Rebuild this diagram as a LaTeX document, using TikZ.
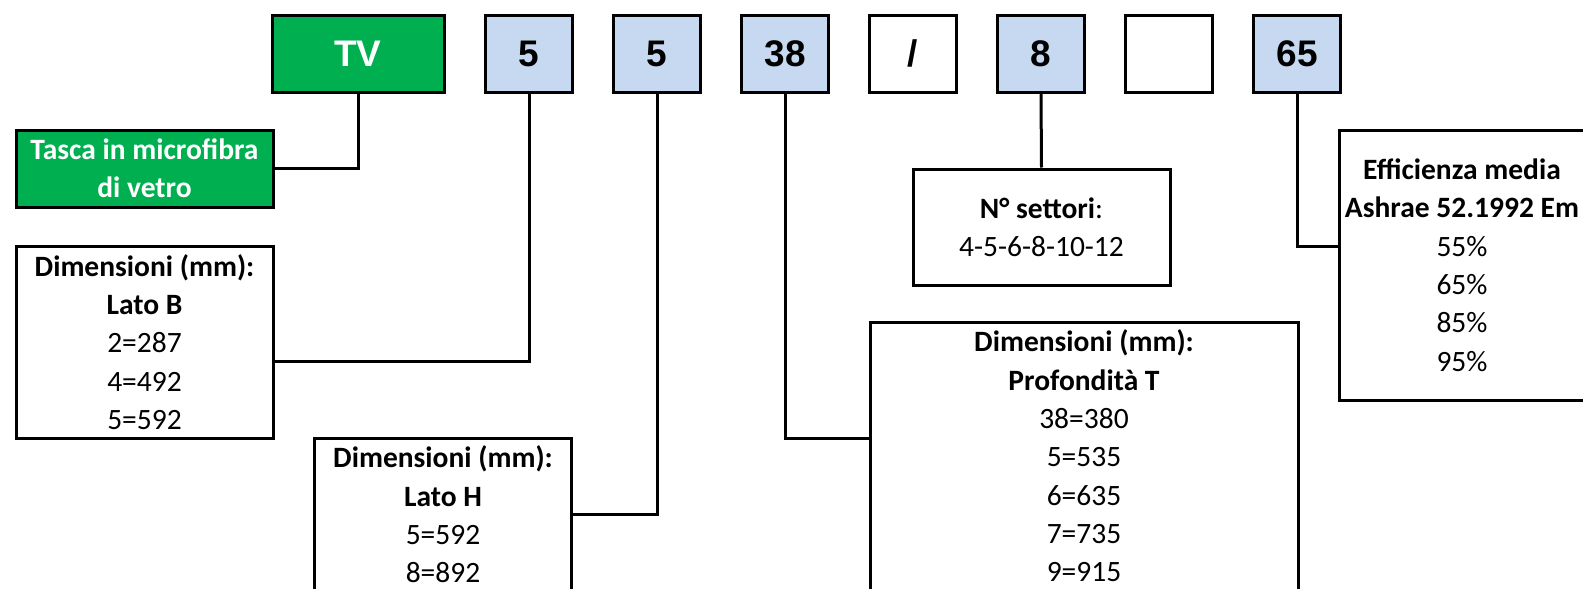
\documentclass[tikz,border=0pt]{standalone}
\usepackage{fontspec}
\setmainfont{Carlito}
\newfontfamily\codefont{Liberation Sans}
\usepackage{xcolor}
\usepackage{tikz}
\definecolor{codegreen}{HTML}{00B050}
\definecolor{codeblue}{HTML}{C6D9F1}

\begin{document}
\begin{tikzpicture}[x=1pt, y=-1pt,
    code/.style={rectangle, draw, line width=3pt, minimum width=87pt, minimum height=77pt, inner sep=0pt,
                 fill=codeblue, font=\codefont\fontsize{37}{40}\selectfont\bfseries},
    info/.style={rectangle, draw, line width=3pt, minimum width=257pt, inner sep=0pt, align=center,
                 fill=white, font=\fontsize{29.5}{38.3}\selectfont},
    link/.style={line width=3pt}
]
    \useasboundingbox (0,0) rectangle (1583,589);
    \clip (0,0) rectangle (1583,589);

    % Code boxes
    \node[code, fill=codegreen, text=white, minimum width=172pt] (tv) at (358, 53.5) {TV};
    \node[code] (lato) at (529, 53.5) {5};
    \node[code] (alto) at (657, 53.5) {5};
    \node[code] (prof) at (785, 53.5) {38};
    \node[code, fill=white] (slash) at (913, 53.5) {/};
    \node[code] (sett) at (1041, 53.5) {8};
    \node[code, fill=white] (blank) at (1169, 53.5) {};
    \node[code] (eff) at (1297, 53.5) {65};

    % Description boxes
    \node[info, fill=codegreen, text=white, minimum height=77pt] (tasca) at (144.5, 168.5)
        {\textbf{Tasca in microfibra}\\\textbf{di vetro}};
    \node[info, minimum height=192pt] (latoinfo) at (144.5, 342)
        {\textbf{Dimensioni (mm):}\\\textbf{Lato B}\\2=287\\4=492\\5=592};
    \node[info, minimum height=153pt] (altoinfo) at (443, 514.5)
        {\textbf{Dimensioni (mm):}\\\textbf{Lato H}\\5=592\\8=892};
    \node[info, minimum width=428pt, minimum height=268pt] (profinfo) at (1084, 456)
        {\textbf{Dimensioni (mm):}\\\textbf{Profondità T}\\38=380\\5=535\\6=635\\7=735\\9=915};
    \node[info, minimum height=116pt] (settinfo) at (1041.5, 227)
        {\textbf{N° settori}:\\4-5-6-8-10-12};
    \node[info, minimum width=246pt, minimum height=270pt] (effinfo) at (1462, 265)
        {\textbf{Efficienza media}\\\textbf{Ashrae 52.1992 Em}\\55\%\\65\%\\85\%\\95\%};

    % Connectors
    \draw[link] (tv.south) |- (tasca.east);
    \draw[link] (lato.south) |- ([yshift=-19pt]latoinfo.east);
    \draw[link] (alto.south) |- (altoinfo.east);
    \draw[link] (prof.south) |- ([yshift=18pt]profinfo.west);
    \draw[link] (sett.south) -- (settinfo.north);
    \draw[link] (eff.south) |- ([yshift=19pt]effinfo.west);
\end{tikzpicture}
\end{document}
